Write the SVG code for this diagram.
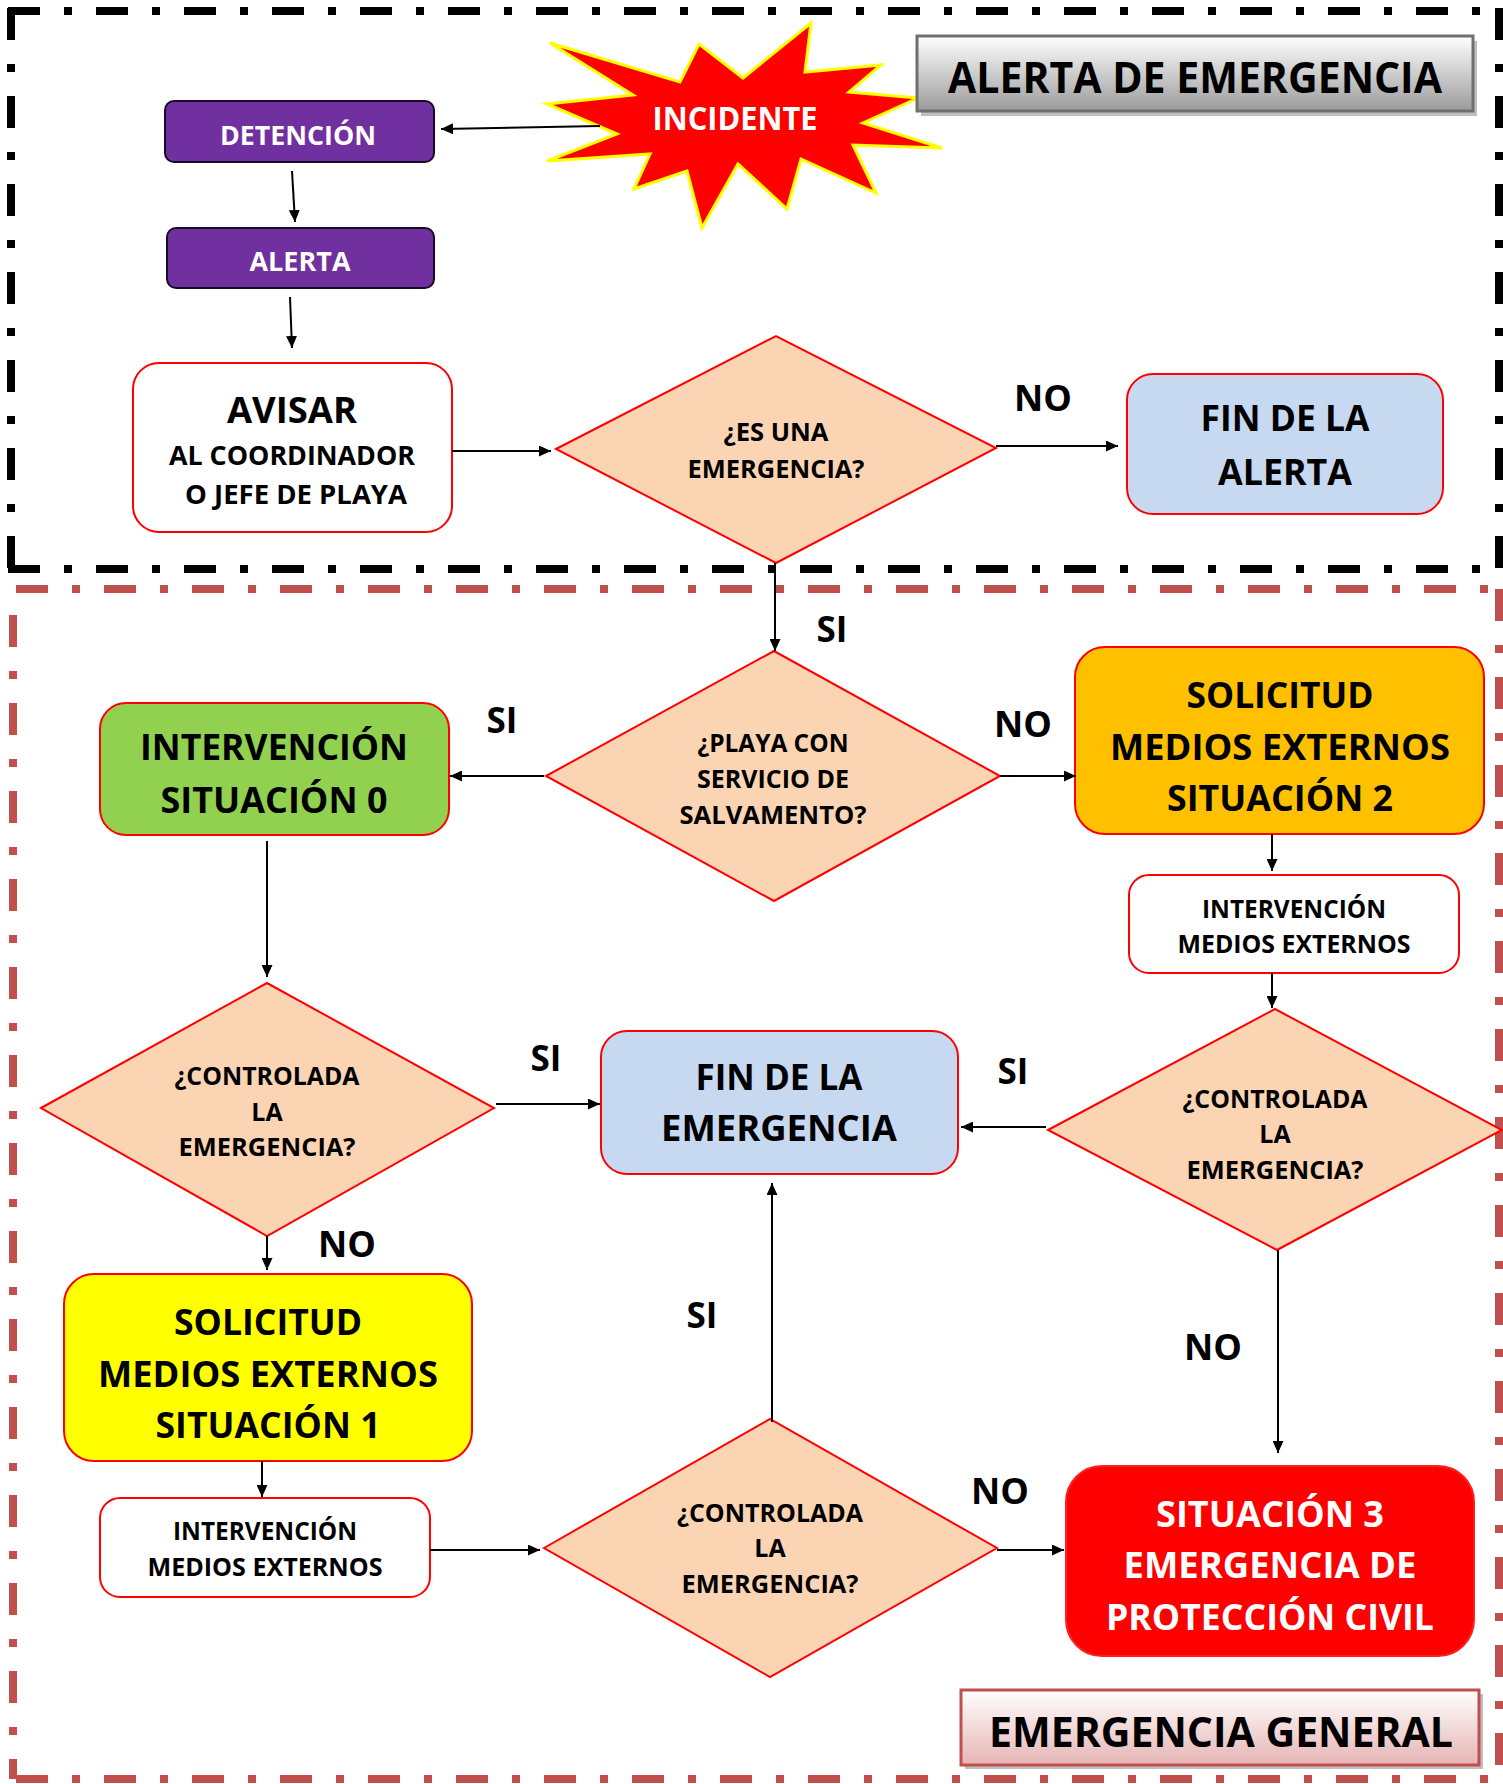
<svg xmlns="http://www.w3.org/2000/svg" width="1503" height="1784" viewBox="0 0 1503 1784">
<defs>
<marker id="ah" markerUnits="userSpaceOnUse" markerWidth="12" markerHeight="11" viewBox="0 0 12 11" refX="12" refY="5.5" orient="auto"><path d="M0,0 L12,5.5 L0,11 z" fill="#000"/></marker>
<linearGradient id="gGray" x1="0" y1="0" x2="0" y2="1"><stop offset="0" stop-color="#FFFFFF"/><stop offset="1" stop-color="#9B9B9B"/></linearGradient>
<linearGradient id="gPink" x1="0" y1="0" x2="0" y2="1"><stop offset="0" stop-color="#FFFFFF"/><stop offset="1" stop-color="#E5B5B4"/></linearGradient>
</defs>
<style>
text{font-family:"Open Sans","DejaVu Sans",sans-serif;font-weight:bold;text-anchor:middle;fill:#000}
.w{fill:#fff}
.box{stroke:#FF0000;stroke-width:2}
.dia{fill:#FBD4B4;stroke:#FF0000;stroke-width:2}
.conn line{stroke:#000;stroke-width:2;marker-end:url(#ah)}
.bk{stroke:#000;stroke-width:8;fill:none;stroke-dasharray:32 24 8 24}
.rd{stroke:#C0504D;stroke-width:8;fill:none;stroke-dasharray:32 24 8 24}
</style>
<g id="frames">
<line class="bk" x1="8" y1="11" x2="1500" y2="11"/>
<line class="bk" x1="8" y1="569" x2="1500" y2="569"/>
<line class="bk" x1="11" y1="8" x2="11" y2="569"/>
<line class="bk" x1="1499" y1="8" x2="1499" y2="569"/>
<line class="rd" x1="16" y1="589" x2="1500" y2="589"/>
<line class="rd" x1="16" y1="1779" x2="1500" y2="1779"/>
<line class="rd" x1="13" y1="615" x2="13" y2="1779"/>
<line class="rd" x1="1499" y1="589" x2="1499" y2="1779"/>
</g>
<g id="incidente">
<polygon points="550,43 680,82 699,44 743,78 811,23 805,72 881,65 849,92 918,98 863,123 942,148 853,145 876,193 801,159 787,209 738,164 702,228 687,171 634,189 650,154 547,161 617,134 547,104 633,95" fill="#FF0000" stroke="#FFFF00" stroke-width="3" stroke-linejoin="miter"/>
<text class="w" x="735" y="130" font-size="32" textLength="165" lengthAdjust="spacingAndGlyphs">INCIDENTE</text>
</g>
<g id="titulo-alerta">
<rect x="921" y="41" width="556" height="75" fill="#BFBFBF"/>
<rect x="917" y="36" width="556" height="75" fill="url(#gGray)" stroke="#6F6F6F" stroke-width="3"/>
<text x="1195" y="93" font-size="43" textLength="494" lengthAdjust="spacingAndGlyphs">ALERTA DE EMERGENCIA</text>
</g>
<g id="detencion">
<rect x="165" y="101" width="269" height="61" rx="9" fill="#7030A0" stroke="#1a0a26" stroke-width="2"/>
<text class="w" x="298" y="145" font-size="26" textLength="156" lengthAdjust="spacingAndGlyphs">DETENCIÓN</text>
</g>
<g id="alerta">
<rect x="167" y="228" width="267" height="60" rx="9" fill="#7030A0" stroke="#1a0a26" stroke-width="2"/>
<text class="w" x="300" y="271" font-size="26" textLength="101" lengthAdjust="spacingAndGlyphs">ALERTA</text>
</g>
<g id="avisar">
<rect class="box" x="133" y="363" width="319" height="169" rx="26" fill="#fff"/>
<text x="292" y="423" font-size="36" textLength="130" lengthAdjust="spacingAndGlyphs">AVISAR</text>
<text x="292" y="465" font-size="27" textLength="246" lengthAdjust="spacingAndGlyphs">AL COORDINADOR</text>
<text x="296" y="504" font-size="27" textLength="222" lengthAdjust="spacingAndGlyphs">O JEFE DE PLAYA</text>
</g>
<g id="es-emergencia">
<polygon class="dia" points="556,449 776,336 996,448 776,563"/>
<text x="776" y="441" font-size="25" textLength="105" lengthAdjust="spacingAndGlyphs">¿ES UNA</text>
<text x="776" y="478" font-size="25" textLength="177" lengthAdjust="spacingAndGlyphs">EMERGENCIA?</text>
</g>
<g id="fin-alerta">
<rect class="box" x="1127" y="374" width="316" height="140" rx="26" fill="#C6D9F1"/>
<text x="1285" y="431" font-size="36" textLength="169" lengthAdjust="spacingAndGlyphs">FIN DE LA</text>
<text x="1285" y="485" font-size="36" textLength="134" lengthAdjust="spacingAndGlyphs">ALERTA</text>
</g>
<g id="playa">
<polygon class="dia" points="546,776 774,651 1000,776 774,901"/>
<text x="773" y="752" font-size="25" textLength="151" lengthAdjust="spacingAndGlyphs">¿PLAYA CON</text>
<text x="773" y="788" font-size="25" textLength="152" lengthAdjust="spacingAndGlyphs">SERVICIO DE</text>
<text x="773" y="824" font-size="25" textLength="187" lengthAdjust="spacingAndGlyphs">SALVAMENTO?</text>
</g>
<g id="situacion0">
<rect class="box" x="100" y="703" width="349" height="132" rx="26" fill="#92D050"/>
<text x="274" y="760" font-size="36" textLength="268" lengthAdjust="spacingAndGlyphs">INTERVENCIÓN</text>
<text x="274" y="813" font-size="36" textLength="227" lengthAdjust="spacingAndGlyphs">SITUACIÓN 0</text>
</g>
<g id="situacion2">
<rect class="box" x="1075" y="647" width="409" height="187" rx="30" fill="#FFC000"/>
<text x="1280" y="708" font-size="36" textLength="187" lengthAdjust="spacingAndGlyphs">SOLICITUD</text>
<text x="1280" y="760" font-size="36" textLength="340" lengthAdjust="spacingAndGlyphs">MEDIOS EXTERNOS</text>
<text x="1280" y="811" font-size="36" textLength="226" lengthAdjust="spacingAndGlyphs">SITUACIÓN 2</text>
</g>
<g id="intervencion-der">
<rect class="box" x="1129" y="875" width="330" height="98" rx="20" fill="#fff"/>
<text x="1294" y="918" font-size="25" textLength="184" lengthAdjust="spacingAndGlyphs">INTERVENCIÓN</text>
<text x="1294" y="953" font-size="25" textLength="233" lengthAdjust="spacingAndGlyphs">MEDIOS EXTERNOS</text>
</g>
<g id="controlada-der">
<polygon class="dia" points="1048,1130 1275,1009 1502,1130 1277,1250"/>
<text x="1275" y="1108" font-size="25" textLength="185" lengthAdjust="spacingAndGlyphs">¿CONTROLADA</text>
<text x="1275" y="1143" font-size="25">LA</text>
<text x="1275" y="1179" font-size="25" textLength="177" lengthAdjust="spacingAndGlyphs">EMERGENCIA?</text>
</g>
<g id="fin-emergencia">
<rect class="box" x="601" y="1031" width="357" height="143" rx="26" fill="#C6D9F1"/>
<text x="779" y="1090" font-size="36" textLength="167" lengthAdjust="spacingAndGlyphs">FIN DE LA</text>
<text x="779" y="1141" font-size="36" textLength="236" lengthAdjust="spacingAndGlyphs">EMERGENCIA</text>
</g>
<g id="controlada-izq">
<polygon class="dia" points="41,1108 267,983 494,1108 267,1236"/>
<text x="267" y="1085" font-size="25" textLength="185" lengthAdjust="spacingAndGlyphs">¿CONTROLADA</text>
<text x="267" y="1121" font-size="25">LA</text>
<text x="267" y="1156" font-size="25" textLength="177" lengthAdjust="spacingAndGlyphs">EMERGENCIA?</text>
</g>
<g id="situacion1">
<rect class="box" x="64" y="1274" width="408" height="187" rx="30" fill="#FFFF00"/>
<text x="268" y="1335" font-size="36" textLength="188" lengthAdjust="spacingAndGlyphs">SOLICITUD</text>
<text x="268" y="1387" font-size="36" textLength="340" lengthAdjust="spacingAndGlyphs">MEDIOS EXTERNOS</text>
<text x="268" y="1438" font-size="36" textLength="225" lengthAdjust="spacingAndGlyphs">SITUACIÓN 1</text>
</g>
<g id="intervencion-izq">
<rect class="box" x="100" y="1498" width="330" height="99" rx="20" fill="#fff"/>
<text x="265" y="1540" font-size="25" textLength="184" lengthAdjust="spacingAndGlyphs">INTERVENCIÓN</text>
<text x="265" y="1576" font-size="25" textLength="235" lengthAdjust="spacingAndGlyphs">MEDIOS EXTERNOS</text>
</g>
<g id="controlada-inf">
<polygon class="dia" points="544,1548 770,1419 997,1548 770,1677"/>
<text x="770" y="1522" font-size="25" textLength="186" lengthAdjust="spacingAndGlyphs">¿CONTROLADA</text>
<text x="770" y="1557" font-size="25">LA</text>
<text x="770" y="1593" font-size="25" textLength="177" lengthAdjust="spacingAndGlyphs">EMERGENCIA?</text>
</g>
<g id="situacion3">
<rect x="1066" y="1466" width="408" height="190" rx="36" fill="#FF0000" stroke="#FF2020" stroke-width="2"/>
<text class="w" x="1270" y="1527" font-size="36" textLength="228" lengthAdjust="spacingAndGlyphs">SITUACIÓN 3</text>
<text class="w" x="1270" y="1578" font-size="36" textLength="293" lengthAdjust="spacingAndGlyphs">EMERGENCIA DE</text>
<text class="w" x="1270" y="1630" font-size="36" textLength="328" lengthAdjust="spacingAndGlyphs">PROTECCIÓN CIVIL</text>
</g>
<g id="titulo-general">
<rect x="965" y="1694" width="518" height="75" fill="#BFBFBF"/>
<rect x="961" y="1690" width="518" height="75" fill="url(#gPink)" stroke="#C0504D" stroke-width="3"/>
<text x="1221" y="1747" font-size="41" textLength="464" lengthAdjust="spacingAndGlyphs">EMERGENCIA GENERAL</text>
</g>
<g id="connectors" class="conn">
<line x1="600" y1="126" x2="441" y2="129"/>
<line x1="292" y1="171" x2="295" y2="222"/>
<line x1="290" y1="297" x2="292" y2="348"/>
<line x1="452" y1="451" x2="551" y2="451"/>
<line x1="996" y1="446" x2="1118" y2="446"/>
<line x1="775" y1="563" x2="775" y2="651"/>
<line x1="544" y1="776" x2="450" y2="776"/>
<line x1="1000" y1="776" x2="1076" y2="776"/>
<line x1="1272" y1="834" x2="1272" y2="871"/>
<line x1="1272" y1="973" x2="1272" y2="1008"/>
<line x1="267" y1="841" x2="267" y2="977"/>
<line x1="496" y1="1104" x2="600" y2="1104"/>
<line x1="1046" y1="1127" x2="961" y2="1127"/>
<line x1="267" y1="1236" x2="267" y2="1270"/>
<line x1="1278" y1="1250" x2="1278" y2="1453"/>
<line x1="262" y1="1461" x2="262" y2="1497"/>
<line x1="430" y1="1550" x2="540" y2="1550"/>
<line x1="772" y1="1422" x2="772" y2="1183"/>
<line x1="997" y1="1550" x2="1064" y2="1550"/>
</g>
<g id="labels">
<text x="1043" y="411" font-size="36">NO</text>
<text x="832" y="642" font-size="35">SI</text>
<text x="502" y="733" font-size="35">SI</text>
<text x="1023" y="737" font-size="36">NO</text>
<text x="546" y="1071" font-size="35">SI</text>
<text x="1013" y="1084" font-size="35">SI</text>
<text x="347" y="1257" font-size="36">NO</text>
<text x="702" y="1328" font-size="35">SI</text>
<text x="1213" y="1360" font-size="36">NO</text>
<text x="1000" y="1504" font-size="36">NO</text>
</g>
</svg>
